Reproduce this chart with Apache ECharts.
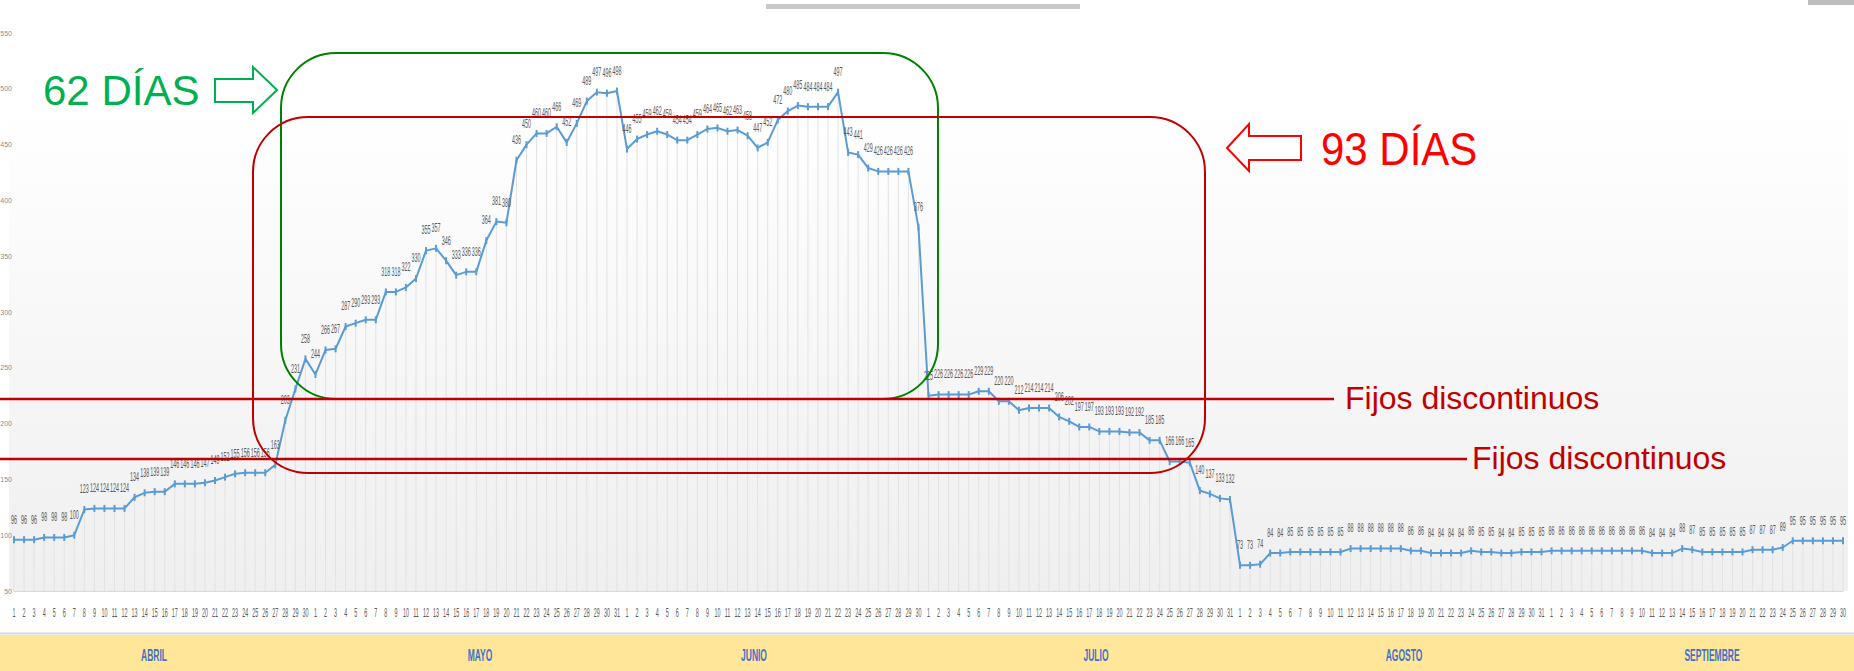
<!DOCTYPE html>
<html>
<head>
<meta charset="utf-8">
<script src="https://cdn.jsdelivr.net/npm/echarts@6/dist/echarts.min.js"></script>
<style>
html, body { margin: 0; padding: 0; background: #fff; }
#chart { width: 1854px; height: 671px; }
</style>
</head>
<body>
<div id="chart"></div>
<script>
// meses y dias
var meses = ['ABRIL', 'MAYO', 'JUNIO', 'JULIO', 'AGOSTO', 'SEPTIEMBRE'];
var diasMes = [30, 31, 30, 31, 31, 30];
var mesX = [154, 480, 754, 1096, 1404, 1712];

// valores diarios por mes
var abril = [96, 96, 96, 98, 98, 98, 100, 123, 124, 124, 124, 124, 134, 138, 139, 139, 146, 146, 146, 147, 149, 152, 155, 156, 156, 156, 163, 203, 231, 258];
var mayo = [244, 266, 267, 287, 290, 293, 293, 318, 318, 322, 330, 355, 357, 346, 333, 336, 336, 364, 381, 380, 436, 450, 460, 460, 466, 452, 469, 489, 497, 496, 498];
var junio = [446, 455, 459, 462, 459, 454, 454, 459, 464, 465, 462, 463, 458, 447, 452, 472, 480, 485, 484, 484, 484, 497, 443, 441, 429, 426, 426, 426, 426, 376];
var julio = [225, 226, 226, 226, 226, 229, 229, 220, 220, 212, 214, 214, 214, 206, 202, 197, 197, 193, 193, 193, 192, 192, 185, 185, 166, 166, 165, 140, 137, 133, 132];
var agosto = [73, 73, 74, 84, 84, 85, 85, 85, 85, 85, 85, 88, 88, 88, 88, 88, 88, 86, 86, 84, 84, 84, 84, 86, 85, 85, 84, 84, 85, 85, 85];
var septiembre = [86, 86, 86, 86, 86, 86, 86, 86, 86, 86, 84, 84, 84, 88, 87, 85, 85, 85, 85, 85, 87, 87, 87, 89, 95, 95, 95, 95, 95, 95];

// eje y
var yMin = 50, yMax = 550, yStep = 50;

var dias = [];
diasMes.forEach(function (n) {
    for (var d = 1; d <= n; d++) dias.push(String(d));
});
var valores = abril.concat(mayo, junio, julio, agosto, septiembre);

var chart = echarts.init(document.getElementById('chart'), null, {renderer: 'svg'});

var graficos = [
    // fondo del area de trazado
    {type: 'rect', z: 0, shape: {x: 9, y: 105, width: 1839, height: 486},
        style: {fill: new echarts.graphic.LinearGradient(0, 0, 0, 1, [
            {offset: 0, color: '#ffffff'}, {offset: 1, color: '#efefef'}])}},
    // banda amarilla de meses
    {type: 'rect', z: 0, shape: {x: 0, y: 635, width: 1854, height: 36}, style: {fill: '#FFE699'}},
    {type: 'line', z: 0, shape: {x1: 0, y1: 633.5, x2: 1854, y2: 633.5}, style: {stroke: '#d9d9d9', lineWidth: 2}},
    // barras grises arriba
    {type: 'rect', z: 0, shape: {x: 766, y: 4, width: 314, height: 5}, style: {fill: '#c8c8c8'}},
    {type: 'rect', z: 0, shape: {x: 1808, y: 0, width: 46, height: 5}, style: {fill: '#bdbdbd'}},
    // recuadros
    {type: 'rect', z: 10, shape: {x: 281, y: 53, width: 657, height: 346, r: 55},
        style: {fill: 'none', stroke: '#008000', lineWidth: 2}},
    {type: 'rect', z: 11, shape: {x: 253, y: 117, width: 952, height: 356, r: 55},
        style: {fill: 'none', stroke: '#C00000', lineWidth: 2}},
    // lineas fijos discontinuos
    {type: 'line', z: 12, shape: {x1: 0, y1: 399, x2: 1334, y2: 399}, style: {stroke: '#C00000', lineWidth: 2.5}},
    {type: 'line', z: 12, shape: {x1: 0, y1: 459, x2: 1467, y2: 459}, style: {stroke: '#C00000', lineWidth: 2.5}},
    {type: 'text', z: 12, x: 1345, y: 398, style: {text: 'Fijos discontinuos', fill: '#C00000',
        font: '32px "Liberation Sans", Arial, sans-serif', align: 'left', verticalAlign: 'middle'}},
    {type: 'text', z: 12, x: 1472, y: 458, style: {text: 'Fijos discontinuos', fill: '#C00000',
        font: '32px "Liberation Sans", Arial, sans-serif', align: 'left', verticalAlign: 'middle'}},
    // dias
    {type: 'text', z: 12, x: 43, y: 90, style: {text: '62 DÍAS', fill: '#00B050',
        font: '42px "Liberation Sans", Arial, sans-serif', align: 'left', verticalAlign: 'middle'}},
    {type: 'text', z: 12, x: 1321, y: 149, scaleY: 1.12, style: {text: '93 DÍAS', fill: '#FF0000',
        font: '42px "Liberation Sans", Arial, sans-serif', align: 'left', verticalAlign: 'middle'}},
    // flechas
    {type: 'polygon', z: 12, shape: {points: [[215, 79], [253, 79], [253, 67], [277, 90], [253, 113], [253, 102], [215, 102]]},
        style: {fill: '#fff', stroke: '#00B050', lineWidth: 2}},
    {type: 'polygon', z: 12, shape: {points: [[1227, 148], [1249, 124], [1249, 136], [1301, 136], [1301, 160], [1249, 160], [1249, 171]]},
        style: {fill: '#fff', stroke: '#FF0000', lineWidth: 2}}
];

meses.forEach(function (m, i) {
    graficos.push({type: 'text', z: 5, x: mesX[i], y: 655, scaleX: 0.5, style: {text: m, fill: '#4472C4',
        font: 'bold 17px "Liberation Sans", Arial, sans-serif', align: 'center', verticalAlign: 'middle'}});
});

var option = {
    animation: false,
    backgroundColor: '#ffffff',
    grid: {left: 14, right: 11, top: 33, bottom: 80, containLabel: false, outerBoundsMode: 'none'},
    xAxis: {
        type: 'category',
        data: dias,
        boundaryGap: false,
        axisLine: {lineStyle: {color: '#d9d9d9'}},
        axisTick: {show: false},
        axisLabel: {show: false},
        splitLine: {show: false}
    },
    yAxis: {
        type: 'value',
        min: yMin,
        max: yMax,
        interval: yStep,
        axisLine: {show: false},
        axisTick: {show: false},
        splitLine: {show: false},
        axisLabel: {color: '#8c8c8c', fontSize: 7, margin: 2, fontFamily: 'Liberation Sans'}
    },
    graphic: graficos,
    series: [
        {
            // lineas de caida
            type: 'bar',
            data: valores,
            barWidth: 1,
            silent: true,
            itemStyle: {color: '#e2e2e2'},
            z: 1
        },
        {
            type: 'line',
            data: valores,
            symbol: 'rect',
            symbolSize: [2, 7],
            showAllSymbol: true,
            silent: true,
            lineStyle: {color: '#5B9BD5', width: 2},
            itemStyle: {color: '#5B9BD5'},
            z: 3
        },
        {
            // etiquetas de datos
            type: 'custom',
            data: valores.map(function (v, i) { return [i, v]; }),
            silent: true,
            z: 4,
            renderItem: function (params, api) {
                var p = api.coord([api.value(0), api.value(1)]);
                return {
                    type: 'text', x: p[0], y: p[1] - 20, scaleX: 0.45,
                    style: {text: String(api.value(1)), fill: '#595959', fontSize: 12,
                        fontFamily: 'Liberation Sans', align: 'center', verticalAlign: 'middle'}
                };
            }
        },
        {
            // numeros de dia
            type: 'custom',
            data: dias.map(function (d, i) { return [i, yMin]; }),
            silent: true,
            z: 4,
            renderItem: function (params, api) {
                var p = api.coord([api.value(0), yMin]);
                return {
                    type: 'text', x: p[0], y: p[1] + 22, scaleX: 0.45,
                    style: {text: dias[params.dataIndex], fill: '#595959', fontSize: 12,
                        fontFamily: 'Liberation Sans', align: 'center', verticalAlign: 'middle'}
                };
            }
        }
    ]
};
chart.setOption(option);
</script>
</body>
</html>
